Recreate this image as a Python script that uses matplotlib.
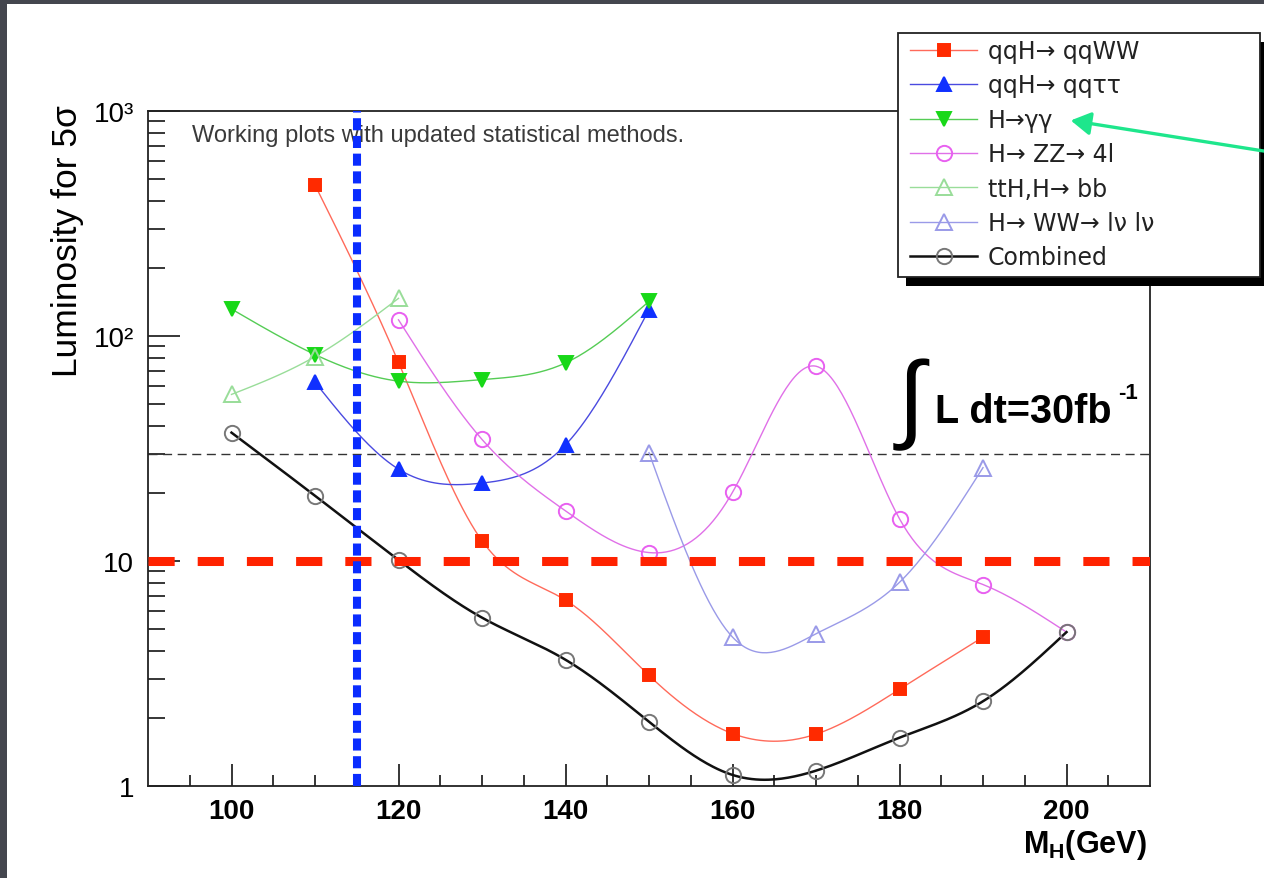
import numpy as np
import matplotlib
matplotlib.use("Agg")
import matplotlib.pyplot as plt
from matplotlib.lines import Line2D
from matplotlib.patches import Rectangle, FancyArrowPatch
from matplotlib.ticker import FixedLocator, FixedFormatter, LogLocator, NullFormatter

plt.rcParams['font.family'] = ['Liberation Sans', 'DejaVu Sans']
plt.rcParams['mathtext.fontset'] = 'custom'
plt.rcParams['mathtext.rm'] = 'Liberation Sans'
plt.rcParams['mathtext.bf'] = 'Liberation Sans:bold'

# luminosity (fb^-1) needed for 5 sigma
mass_qqww = [110, 120, 130, 140, 150, 160, 170, 180, 190]
lumi_qqww = [469, 76.4, 12.3, 6.7, 3.1, 1.71, 1.70, 2.69, 4.59]

mass_qqtt = [110, 120, 130, 140, 150]
lumi_qqtt = [62.3, 25.6, 22.2, 32.8, 131]

mass_gg = [100, 110, 120, 130, 140, 150]
lumi_gg = [131.8, 82.7, 63, 64, 75.9, 142.5]

mass_zz = [120, 130, 140, 150, 160, 170, 180, 190, 200]
lumi_zz = [118, 34.7, 16.7, 10.9, 20.2, 73.4, 15.4, 7.86, 4.83]

mass_tth = [100, 110, 120]
lumi_tth = [55, 81, 147]

mass_ww = [150, 160, 170, 180, 190]
lumi_ww = [30.3, 4.59, 4.75, 8.04, 26.0]

mass_comb = [100, 110, 120, 130, 140, 150, 160, 170, 180, 190, 200]
lumi_comb = [37.2, 19.5, 10.1, 5.6, 3.64, 1.93, 1.12, 1.17, 1.64, 2.38, 4.83]

labels = ["qqH\u2192 qqWW", "qqH\u2192 qq\u03c4\u03c4", "H\u2192\u03b3\u03b3",
          "H\u2192 ZZ\u2192 4l", "ttH,H\u2192 bb", "H\u2192 WW\u2192 l\u03bd l\u03bd", "Combined"]

lumi_ref = 30      # integrated luminosity line
lumi_10 = 10       # red dashed line
lep_limit = 115    # blue dotted line

W, H = 1264, 879


def fpx(x, y):
    # pixel position (from top-left) -> figure fraction
    return x / W, 1 - y / H


def smooth(x, y, n=40):
    # natural cubic spline in (x, log y), like ROOT's "C" drawing option
    x = np.asarray(x, float)
    ly = np.log10(np.asarray(y, float))
    k = len(x)
    h = np.diff(x)
    A = np.zeros((k, k))
    b = np.zeros(k)
    A[0, 0] = A[-1, -1] = 1
    for i in range(1, k - 1):
        A[i, i - 1] = h[i - 1]
        A[i, i] = 2 * (h[i - 1] + h[i])
        A[i, i + 1] = h[i]
        b[i] = 6 * ((ly[i + 1] - ly[i]) / h[i] - (ly[i] - ly[i - 1]) / h[i - 1])
    M = np.linalg.solve(A, b)
    xs, ys = [], []
    for i in range(k - 1):
        t = np.linspace(x[i], x[i + 1], n)
        a = x[i + 1] - t
        c = t - x[i]
        s = (M[i] * a ** 3 / (6 * h[i]) + M[i + 1] * c ** 3 / (6 * h[i])
             + (ly[i] / h[i] - M[i] * h[i] / 6) * a
             + (ly[i + 1] / h[i] - M[i + 1] * h[i] / 6) * c)
        xs.append(t)
        ys.append(s)
    return np.concatenate(xs), 10 ** np.concatenate(ys)


fig = plt.figure(figsize=(W / 100, H / 100), dpi=100, facecolor='#44464e')
fig.add_artist(Rectangle(fpx(7, H), 1, 1 - 5 / H, transform=fig.transFigure,
                         facecolor='white', edgecolor='none', zorder=-10))

l, b = fpx(148, 787)
r, t = fpx(1150, 112)
ax = fig.add_axes([l, b, r - l, t - b])
ax.set_facecolor('white')

series = [
    (mass_qqww, lumi_qqww, '#ff6a5a', 's', '#ff2a00', '#ff2a00', 9, 1.0),
    (mass_qqtt, lumi_qqtt, '#4a4ae0', '^', '#1030ff', '#1030ff', 10, 1.0),
    (mass_gg, lumi_gg, '#55cc55', 'v', '#18d818', '#18d818', 10, 1.0),
    (mass_zz, lumi_zz, '#e070e8', 'o', 'none', '#e860f0', 11, 1.0),
    (mass_tth, lumi_tth, '#99dd99', '^', 'none', '#99dd99', 11, 1.0),
    (mass_ww, lumi_ww, '#9a9ae8', '^', 'none', '#9a9ae8', 11, 1.0),
    (mass_comb, lumi_comb, '#111111', 'o', 'none', '#777777', 11, 1.8),
]

handles = []
for x, y, lc, mk, mfc, mec, ms, lw in series:
    sx, sy = smooth(x, y)
    ax.plot(sx, sy, color=lc, lw=lw, zorder=3)
    ax.plot(x, y, linestyle='none', marker=mk, ms=ms, mfc=mfc, mec=mec, mew=1.4, zorder=4)
    handles.append(Line2D([], [], color=lc, lw=lw, marker=mk, ms=ms, mfc=mfc, mec=mec, mew=1.4))

ax.axhline(lumi_ref, color='#333333', lw=1.0, dashes=(6.5, 4), zorder=2)
ax.axhline(lumi_10, color='#ff2200', lw=6.5, dashes=(2.9, 2.55), zorder=5)
ax.axvline(lep_limit, color='#0a2cff', lw=5.8, dashes=(1.5, 0.7), zorder=6)

ax.set_yscale('log')
ax.set_xlim(90, 210)
ax.set_ylim(1, 1000)

ax.xaxis.set_major_locator(FixedLocator([100, 120, 140, 160, 180, 200]))
ax.xaxis.set_minor_locator(FixedLocator(np.arange(95, 210, 5)))
ax.yaxis.set_major_locator(FixedLocator([1, 10, 100, 1000]))
ax.yaxis.set_major_formatter(FixedFormatter(['1', '10', '10\u00b2', '10\u00b3']))
ax.yaxis.set_minor_locator(LogLocator(base=10, subs=np.arange(2, 10)))
ax.yaxis.set_minor_formatter(NullFormatter())

ax.tick_params(axis='x', which='major', direction='in', length=16, width=1.1, pad=9,
               labelsize=20)
ax.tick_params(axis='x', which='minor', direction='in', length=8, width=1.1)
ax.tick_params(axis='y', which='major', direction='in', length=23, width=1.1, pad=10,
               labelsize=20)
ax.tick_params(axis='y', which='minor', direction='in', length=12, width=1.1)
for lab in ax.get_xticklabels():
    lab.set_fontweight('bold')
for s in ax.spines.values():
    s.set_linewidth(1.3)
    s.set_color('#222222')

ax.text(0.044, 0.965, "Working plots with updated statistical methods.",
        transform=ax.transAxes, fontsize=17, color='#3a3a3a', va='center', ha='left')

# integral annotation
fig.text(*fpx(911, 405), "\u222b", fontsize=70, ha='center', va='center', color='black')
fig.text(*fpx(935, 412), "L dt=30fb", fontsize=28.5, fontweight='bold', ha='left', va='center')
fig.text(*fpx(1118, 394), "-1", fontsize=16, fontweight='bold', ha='left', va='center')

fig.text(*fpx(68, 105), "Luminosity for 5\u03c3", rotation=90, fontsize=25.5,
         ha='center', va='top')
fig.text(*fpx(1147, 845), r'$\mathbf{M_{H}(GeV)}$', fontsize=22, ha='right', va='center')

# legend box with shadow
x0, y0 = fpx(898, 278)
x1, y1 = fpx(1260, 34)
sx0, sy0 = fpx(906, 287)
fig.add_artist(Rectangle((sx0, sy0), x1 - x0, y1 - y0, transform=fig.transFigure,
                         facecolor='black', edgecolor='none', zorder=20))
fig.add_artist(Rectangle((x0, y0), x1 - x0, y1 - y0, transform=fig.transFigure,
                         facecolor='white', edgecolor='#222222', lw=1.3, zorder=21))
leg = fig.legend(handles, labels, loc='upper left', bbox_to_anchor=fpx(910, 40),
                 frameon=False, borderpad=0, borderaxespad=0, handlelength=2.85,
                 handletextpad=0.45, labelspacing=0.44,
                 prop={'size': 17, 'family': 'DejaVu Sans'})
leg.set_zorder(22)
for txt in leg.get_texts():
    txt.set_color('#222222')

arrow = FancyArrowPatch(fpx(1270, 153), fpx(1068, 121), transform=fig.transFigure,
                        arrowstyle='-|>,head_length=0.6,head_width=0.35', mutation_scale=20,
                        color='#1ee68c', lw=2.4, zorder=30)
fig.add_artist(arrow)

fig.savefig('out.png', dpi=100, facecolor=fig.get_facecolor())
